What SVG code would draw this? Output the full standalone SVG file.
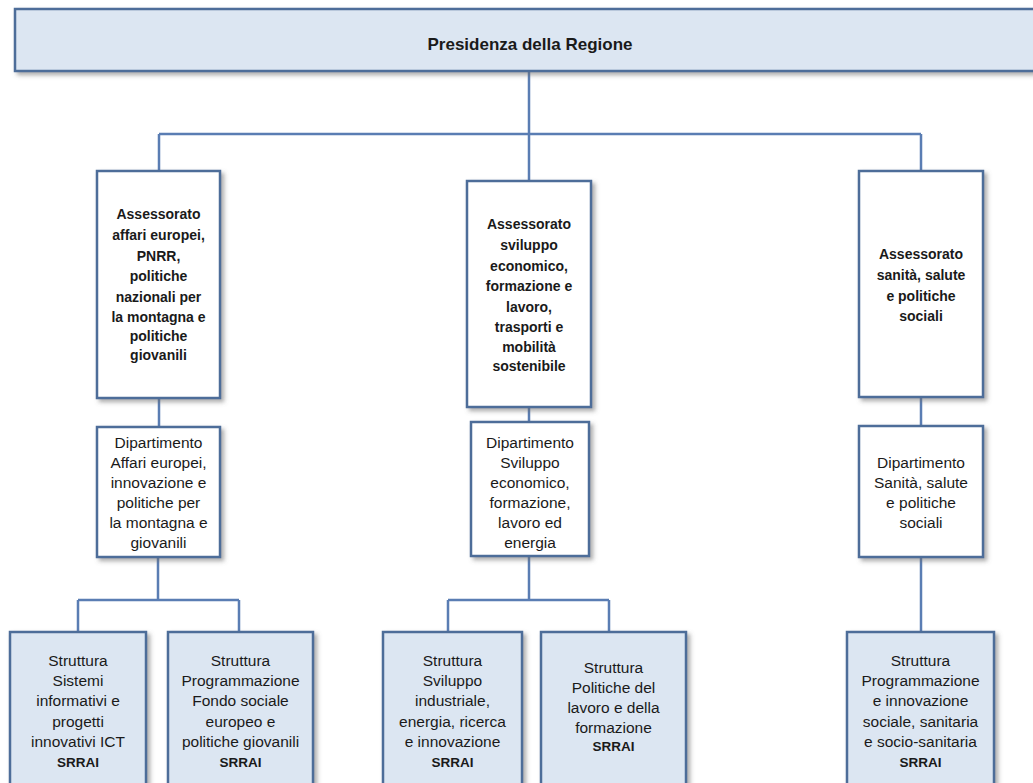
<svg xmlns="http://www.w3.org/2000/svg" width="1033" height="783" viewBox="0 0 1033 783">
<defs>
<filter id="sh" x="-10%" y="-10%" width="130%" height="130%">
<feDropShadow dx="3" dy="3" stdDeviation="2" flood-color="#6b6b6b" flood-opacity="0.55"/>
</filter>
<style>
.box{stroke:#4d6d99;stroke-width:2.5;filter:url(#sh)}
.w{fill:#ffffff}
.b{fill:#dce6f2}
.con{fill:none;stroke:#5a7db3;stroke-width:2.5}
text{font-family:"Liberation Sans",Arial,sans-serif;fill:#1a1a1a;text-anchor:middle}
.bt{font-size:14px;font-weight:bold}
.rt{font-size:15.5px}
.sr{font-weight:bold;font-size:13.5px}
.title{font-size:17px;font-weight:bold}
</style>
</defs>
<rect width="1033" height="783" fill="#ffffff"/>
<g id="connectors">
<path class="con" d="M529 71V181M159 134H921M159 134V171M921 134V171"/>
<path class="con" d="M159 398V427M529 407V422M921 397V426"/>
<path class="con" d="M158 557V600M78 600H239M78 600V632M239 600V632"/>
<path class="con" d="M529 556V600M448 600H609M448 600V632M609 600V632"/>
<path class="con" d="M921 557V632"/>
</g>
<g id="presidenza">
<rect class="box b" x="15" y="9" width="1030" height="62"/>
<text class="title" x="530" y="50">Presidenza della Regione</text>
</g>
<g id="ass1">
<rect class="box w" x="97" y="171" width="123" height="227"/>
<text class="bt"><tspan x="158.5" y="219">Assessorato</tspan><tspan x="158.5" y="240">affari europei,</tspan><tspan x="158.5" y="261">PNRR,</tspan><tspan x="158.5" y="281">politiche</tspan><tspan x="158.5" y="302">nazionali  per</tspan><tspan x="158.5" y="322">la montagna e</tspan><tspan x="158.5" y="341">politiche</tspan><tspan x="158.5" y="360">giovanili</tspan></text>
</g>
<g id="ass2">
<rect class="box w" x="467" y="181" width="124" height="226"/>
<text class="bt"><tspan x="529" y="229">Assessorato</tspan><tspan x="529" y="250">sviluppo</tspan><tspan x="529" y="271">economico,</tspan><tspan x="529" y="291">formazione e</tspan><tspan x="529" y="312">lavoro,</tspan><tspan x="529" y="332">trasporti e</tspan><tspan x="529" y="352">mobilità</tspan><tspan x="529" y="371">sostenibile</tspan></text>
</g>
<g id="ass3">
<rect class="box w" x="859" y="171" width="124" height="226"/>
<text class="bt"><tspan x="921" y="259">Assessorato</tspan><tspan x="921" y="280">sanità, salute</tspan><tspan x="921" y="301">e politiche</tspan><tspan x="921" y="321">sociali</tspan></text>
</g>
<g id="dip1">
<rect class="box w" x="97" y="427" width="123" height="130"/>
<text class="rt"><tspan x="158.5" y="448">Dipartimento</tspan><tspan x="158.5" y="468">Affari europei,</tspan><tspan x="158.5" y="488">innovazione e</tspan><tspan x="158.5" y="508">politiche per</tspan><tspan x="158.5" y="528">la montagna e</tspan><tspan x="158.5" y="548">giovanili</tspan></text>
</g>
<g id="dip2">
<rect class="box w" x="471" y="422" width="118" height="134"/>
<text class="rt"><tspan x="530" y="448">Dipartimento</tspan><tspan x="530" y="468">Sviluppo</tspan><tspan x="530" y="488">economico,</tspan><tspan x="530" y="508">formazione,</tspan><tspan x="530" y="528">lavoro ed</tspan><tspan x="530" y="548">energia</tspan></text>
</g>
<g id="dip3">
<rect class="box w" x="859" y="426" width="124" height="131"/>
<text class="rt"><tspan x="921" y="468">Dipartimento</tspan><tspan x="921" y="488">Sanità, salute</tspan><tspan x="921" y="508">e politiche</tspan><tspan x="921" y="528">sociali</tspan></text>
</g>
<g id="str1">
<rect class="box b" x="10" y="632" width="136" height="160"/>
<text class="rt"><tspan x="78" y="666">Struttura</tspan><tspan x="78" y="686">Sistemi</tspan><tspan x="78" y="706">informativi e</tspan><tspan x="78" y="727">progetti</tspan><tspan x="78" y="747">innovativi ICT</tspan><tspan class="sr" x="78" y="767">SRRAI</tspan></text>
</g>
<g id="str2">
<rect class="box b" x="168" y="632" width="145" height="160"/>
<text class="rt"><tspan x="240.5" y="666">Struttura</tspan><tspan x="240.5" y="686">Programmazione</tspan><tspan x="240.5" y="706">Fondo sociale</tspan><tspan x="240.5" y="727">europeo e</tspan><tspan x="240.5" y="747">politiche giovanili</tspan><tspan class="sr" x="240.5" y="767">SRRAI</tspan></text>
</g>
<g id="str3">
<rect class="box b" x="383" y="632" width="139" height="160"/>
<text class="rt"><tspan x="452.5" y="666">Struttura</tspan><tspan x="452.5" y="686">Sviluppo</tspan><tspan x="452.5" y="706">industriale,</tspan><tspan x="452.5" y="727">energia, ricerca</tspan><tspan x="452.5" y="747">e innovazione</tspan><tspan class="sr" x="452.5" y="767">SRRAI</tspan></text>
</g>
<g id="str4">
<rect class="box b" x="541" y="632" width="145" height="160"/>
<text class="rt"><tspan x="613.5" y="673">Struttura</tspan><tspan x="613.5" y="693">Politiche del</tspan><tspan x="613.5" y="713">lavoro e della</tspan><tspan x="613.5" y="733">formazione</tspan><tspan class="sr" x="613.5" y="751">SRRAI</tspan></text>
</g>
<g id="str5">
<rect class="box b" x="847" y="632" width="147" height="160"/>
<text class="rt"><tspan x="920.5" y="666">Struttura</tspan><tspan x="920.5" y="686">Programmazione</tspan><tspan x="920.5" y="706">e innovazione</tspan><tspan x="920.5" y="727">sociale, sanitaria</tspan><tspan x="920.5" y="747">e socio-sanitaria</tspan><tspan class="sr" x="920.5" y="767">SRRAI</tspan></text>
</g>
</svg>
